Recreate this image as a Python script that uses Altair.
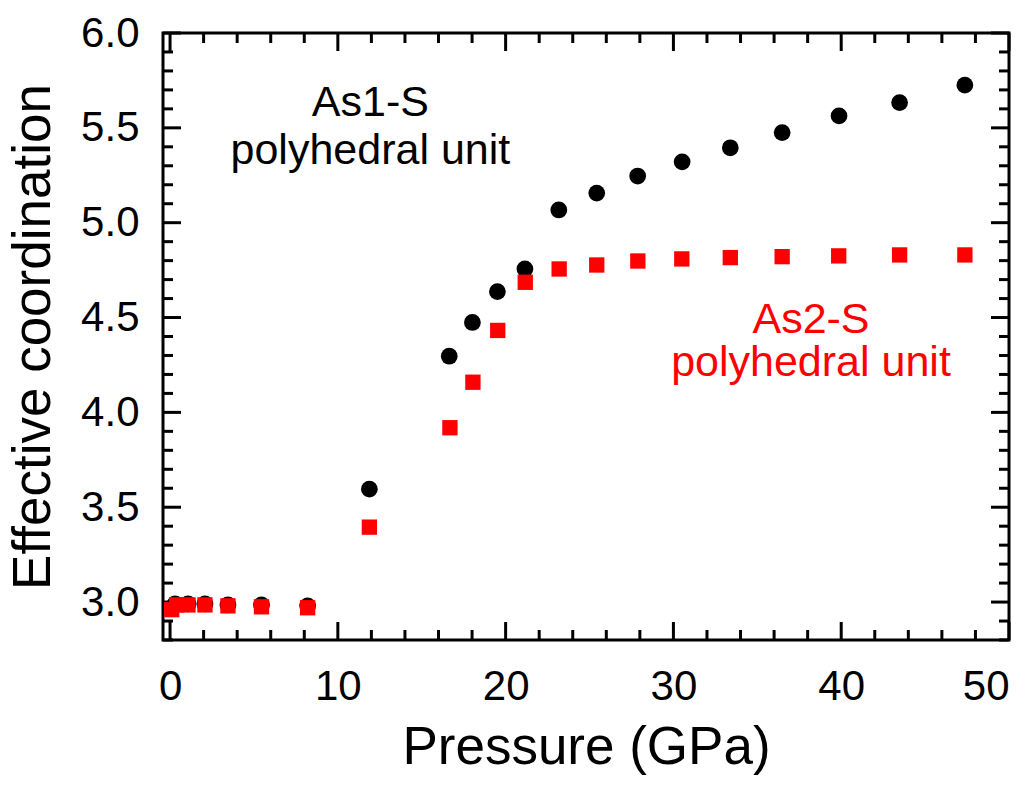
import altair as alt
import pandas as pd

# As1-S (black circles)
p1 = [0.3, 1.07, 2.08, 3.45, 5.45, 8.2, 11.88, 16.64, 18.02, 19.51, 21.15,
      23.17, 25.43, 27.87, 30.52, 33.39, 36.48, 39.87, 43.48, 47.37]
c1 = [2.99, 2.99, 2.99, 2.985, 2.985, 2.98, 3.595, 4.296, 4.474, 4.637, 4.756,
      5.067, 5.156, 5.246, 5.321, 5.395, 5.475, 5.563, 5.633, 5.725]
# As2-S (red squares)
p2 = [0.1, 0.4, 1.07, 2.08, 3.45, 5.45, 8.2, 11.88, 16.68, 18.05, 19.53, 21.17,
      23.19, 25.43, 27.88, 30.5, 33.39, 36.48, 39.85, 43.48, 47.37]
c2 = [2.96, 2.985, 2.985, 2.985, 2.98, 2.975, 2.97, 3.395, 3.919, 4.159, 4.432, 4.686,
      4.756, 4.777, 4.798, 4.809, 4.816, 4.821, 4.825, 4.83, 4.83]

x_major = [0, 10, 20, 30, 40, 50]
x_minor = [v for v in range(2, 50, 2) if v % 10 != 0]
y_major = [3.0, 3.5, 4.0, 4.5, 5.0, 5.5, 6.0]
y_minor = [round(2.8 + 0.1 * i, 1) for i in range(33) if round(2.8 + 0.1 * i, 1) not in y_major]

ann_text = ["As1-S", "polyhedral unit", "As2-S", "polyhedral unit"]
ann_x = [11.94, 11.94, 38.2, 38.2]
ann_y = [5.56, 5.31, 4.42, 4.19]
ann_color = ["black", "black", "red", "red"]

W, H = 846, 607
FONT = "Liberation Sans"

xs = alt.Scale(domain=[-0.42, 50], nice=False, zero=False)
ys = alt.Scale(domain=[2.8, 6.0], nice=False, zero=False)

df1 = pd.DataFrame({"p": p1, "c": c1})
df2 = pd.DataFrame({"p": p2, "c": c2})
dfa = pd.DataFrame({"t": ann_text, "x": ann_x, "y": ann_y, "col": ann_color})
dxM = pd.DataFrame({"v": x_major})
dxm = pd.DataFrame({"v": x_minor})
dyM = pd.DataFrame({"v": y_major})
dym = pd.DataFrame({"v": y_minor})


def xenc(field):
    return alt.X(field, type="quantitative", scale=xs, title="Pressure (GPa)",
                 axis=alt.Axis(values=x_major, format="d", titlePadding=14, labelPadding=26))


def yenc(field):
    return alt.Y(field, type="quantitative", scale=ys, title="Effective coordination",
                 axis=alt.Axis(values=y_major, format=".1f", titlePadding=20, labelPadding=24))


circles = alt.Chart(df1).mark_point(shape="circle", filled=True, size=280, color="black",
                                    opacity=1).encode(x=xenc("p"), y=yenc("c"))
squares = alt.Chart(df2).mark_point(shape="square", filled=True, size=235, color="#ff0000",
                                    opacity=1).encode(x=xenc("p"), y=yenc("c"))

text = alt.Chart(dfa).mark_text(fontSize=43, font=FONT, baseline="alphabetic", align="center").encode(
    x=xenc("x"), y=yenc("y"),
    text="t:N", color=alt.Color("col:N", scale=None))


def xticks(d, L):
    bot = alt.Chart(d).mark_rule(color="black", strokeWidth=3).encode(
        x=xenc("v"), y=alt.value(H), y2=alt.value(H - L))
    top = alt.Chart(d).mark_rule(color="black", strokeWidth=3).encode(
        x=xenc("v"), y=alt.value(0), y2=alt.value(L))
    return bot + top


def yticks(d, L):
    left = alt.Chart(d).mark_rule(color="black", strokeWidth=3).encode(
        y=yenc("v"), x=alt.value(0), x2=alt.value(L))
    right = alt.Chart(d).mark_rule(color="black", strokeWidth=3).encode(
        y=yenc("v"), x=alt.value(W), x2=alt.value(W - L))
    return left + right


chart = alt.layer(
    circles, xticks(dxM, 18), xticks(dxm, 10), yticks(dyM, 18), yticks(dym, 10),
    squares, text
).properties(
    width=W, height=H,
    autosize=alt.AutoSizeParams(type="none"),
    padding={"left": 163, "top": 33, "right": 26, "bottom": 147},
    background="white",
).configure_view(stroke="black", strokeWidth=3).configure_axis(
    ticks=False, domain=False, grid=False,
    labelFontSize=42, labelFont=FONT, labelColor="black",
    titleFontSize=53, titleFont=FONT, titleFontWeight="normal", titleColor="black",
)

chart.save("out.html", embed_options={"renderer": "svg", "actions": False})
